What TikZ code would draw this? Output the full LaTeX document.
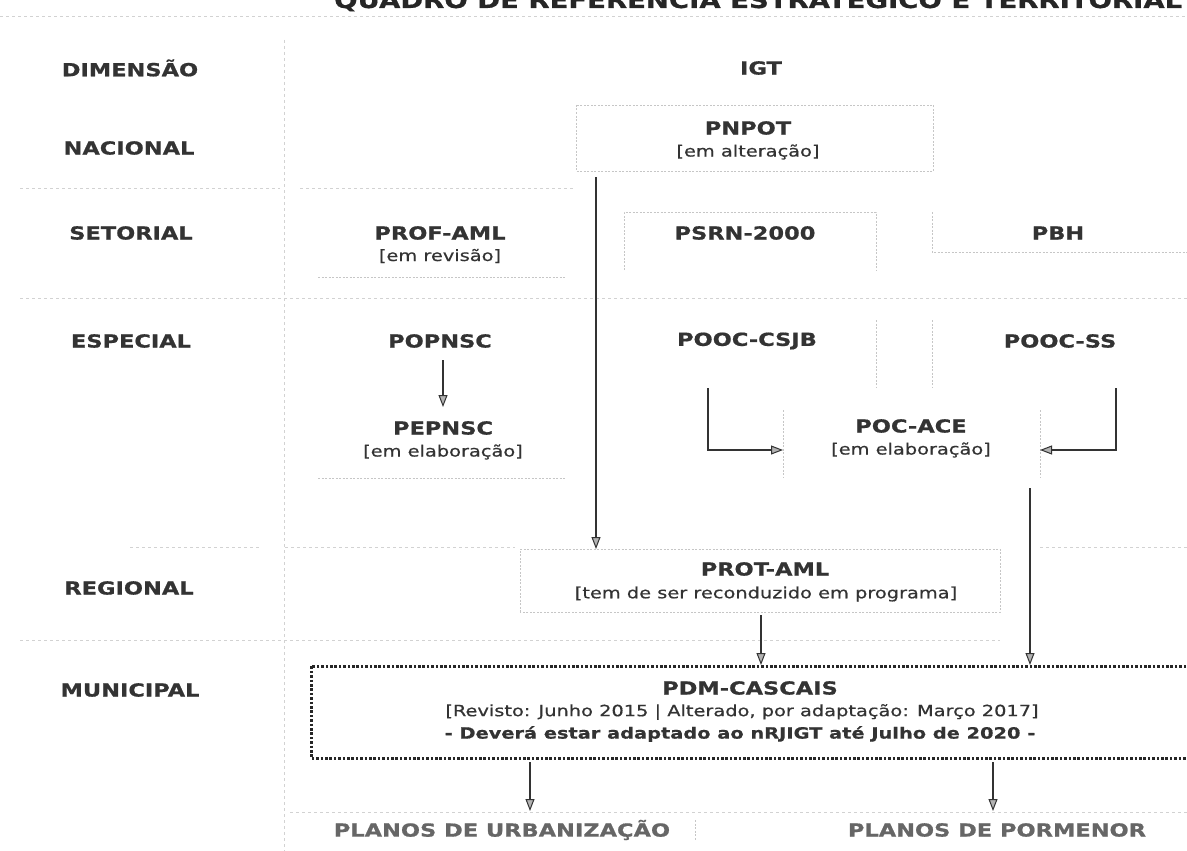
\documentclass[tikz,border=0pt]{standalone}
\usepackage{fontspec}
\setmainfont{DejaVu Sans}[FakeStretch=1.25]
\newfontfamily\subfam{DejaVu Sans}[FakeStretch=1.25, FakeBold=0.6]
\newfontfamily\labfam{DejaVu Sans}[FakeStretch=1.25, FakeBold=0.8]
\usetikzlibrary{arrows.meta}
\newcommand\myLab{\labfam\fontsize{18}{20}\selectfont\bfseries}
\newcommand\mySub{\subfam\fontsize{15.5}{18}\selectfont}
\definecolor{ink}{HTML}{333333}
\definecolor{lightink}{HTML}{666666}
\tikzset{
  lab/.style={font=\myLab, text=ink, inner sep=0pt},
  sub/.style={font=\mySub, text=ink, inner sep=0pt},
  dimlab/.style={font=\myLab, text=ink, inner sep=0pt},
  faint/.style={draw=gray!45, line width=0.7pt, dash pattern=on 2pt off 1.5pt},
  gridline/.style={draw=gray!35, line width=0.6pt, dash pattern=on 3pt off 3pt},
  arr/.style={draw=black!80, line width=1.8pt, -{Triangle[length=12pt,width=9pt,fill=gray!60,line width=1pt]}},
  heavydot/.style={draw=black!85, line width=3pt, dash pattern=on 2.6pt off 1.8pt}
}
\begin{document}
\begin{tikzpicture}[x=1pt,y=-1pt]
\useasboundingbox (0,0) rectangle (1187,851);
% title (cut by the top edge)
\node[font=\labfam\fontsize{22}{22}\selectfont\bfseries, text=black!85, anchor=base west, inner sep=0pt] (title) at (334,8) {QUADRO DE REFERÊNCIA ESTRATÉGICO E TERRITORIAL};
% faint table grid
\draw[gridline] (0,16) -- (1187,16);
\draw[gridline] (284,40) -- (284,851);
\draw[gridline] (20,188) -- (280,188) (300,188) -- (575,188);
\draw[gridline] (20,298) -- (1187,298);
\draw[gridline] (130,547) -- (260,547) (285,547) -- (515,547) (1040,547) -- (1187,547);
\draw[gridline] (20,640) -- (1000,640);
\draw[gridline] (290,812) -- (1187,812);
% column headers
\node[dimlab] (dim) at (130,68) {DIMENSÃO};
\node[lab] (igt) at (761,68) {IGT};
% left column
\node[dimlab] (nac) at (129,148) {NACIONAL};
\node[dimlab] (set) at (131,233) {SETORIAL};
\node[dimlab] (esp) at (131,341) {ESPECIAL};
\node[dimlab] (reg) at (129,588) {REGIONAL};
\node[dimlab] (mun) at (130,690) {MUNICIPAL};
% PNPOT
\draw[faint] (576,105) rectangle (933,171);
\node[lab] (pnpot) at (748,128) {PNPOT};
\node[sub] (pnpots) at (748,152) {[em alteração]};
% setorial row
\node[lab] (prof) at (440,233) {PROF-AML};
\node[sub] (profs) at (440,256) {[em revisão]};
\draw[faint] (318,277) -- (566,277);
\draw[faint] (624,270) -- (624,212) -- (876,212) -- (876,270);
\node[lab] (psrn) at (745,233) {PSRN-2000};
\draw[faint] (932,212) -- (932,252) -- (1187,252);
\node[lab] (pbh) at (1058,233) {PBH};
% especial row
\node[lab] (popnsc) at (440,341) {POPNSC};
\node[lab] (pooccsjb) at (747,341) {POOC-CSJB};
\node[lab] (poocss) at (1060,341) {POOC-SS};
\draw[faint] (876,320) -- (876,387) (932,320) -- (932,387);
\node[lab] (pepnsc) at (443,428) {PEPNSC};
\node[sub] (pepnscs) at (443,452) {[em elaboração]};
\draw[faint] (318,478) -- (566,478);
\node[lab] (pocace) at (911,426) {POC-ACE};
\node[sub] (pocaces) at (911,450) {[em elaboração]};
\draw[faint] (783,410) -- (783,478) (1040,410) -- (1040,478);
% regional
\draw[faint] (520,612) -- (520,549) -- (1000,549) -- (1000,612) -- (520,612);
\node[lab] (prot) at (765,569) {PROT-AML};
\node[sub] (prots) at (766,594) {[tem de ser reconduzido em programa]};
% municipal
\draw[heavydot] (1195,666) -- (311,666) -- (311,758) -- (1195,758);
\node[lab] (pdm) at (750,688) {PDM-CASCAIS};
\node[sub] (pdms) at (742,712) {[Revisto: Junho 2015 | Alterado, por adaptação: Março 2017]};
\node[sub, font=\mySub\bfseries] (pdmd) at (740,734) {- Deverá estar adaptado ao nRJIGT até Julho de 2020 -};
% planos
\node[lab, text=lightink] (pu) at (502,830) {PLANOS DE URBANIZAÇÃO};
\node[lab, text=lightink] (pp) at (997,830) {PLANOS DE PORMENOR};
\draw[faint] (695,820) -- (695,840);
% connector end points
\coordinate (pnpotOut) at (596,177);
\coordinate (protIn) at (596,549);
\coordinate (popOut) at (443,360);
\coordinate (pepIn) at (443,407);
\coordinate (csjbOut) at (708,388);
\coordinate (aceL) at (783,450);
\coordinate (ssOut) at (1116,388);
\coordinate (aceR) at (1040,450);
\coordinate (aceOut) at (1030,488);
\coordinate (pdmInA) at (1030,665);
\coordinate (protOut) at (761,615);
\coordinate (pdmInB) at (761,665);
\coordinate (pdmOutA) at (530,762);
\coordinate (puIn) at (530,811);
\coordinate (pdmOutB) at (993,762);
\coordinate (ppIn) at (993,811);
% connectors
\draw[arr] (pnpotOut) -- (protIn);
\draw[arr] (popOut) -- (pepIn);
\draw[arr] (csjbOut) |- (aceL);
\draw[arr] (ssOut) |- (aceR);
\draw[arr] (aceOut) -- (pdmInA);
\draw[arr] (protOut) -- (pdmInB);
\draw[arr] (pdmOutA) -- (puIn);
\draw[arr] (pdmOutB) -- (ppIn);
\end{tikzpicture}
\end{document}
